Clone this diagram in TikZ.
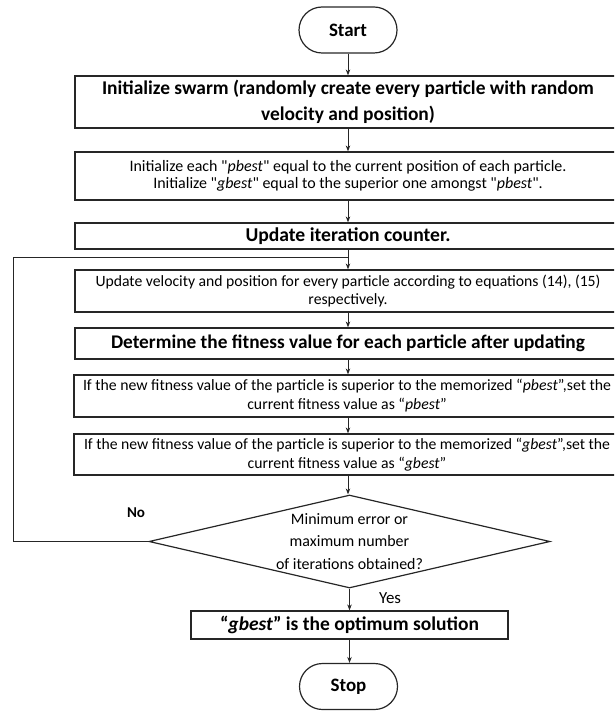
\documentclass[tikz,border=0pt]{standalone}
\usepackage{fontspec}
\setmainfont{Carlito}[Ligatures=TeXOff]
\usetikzlibrary{arrows.meta,shapes.geometric}
\newlength\natw
\newcommand\calcsize[4]{\settowidth\natw{#2\fontsize{10}{12}\selectfont #4}\pgfmathsetmacro#1{10*#3/\natw}}
\begin{document}
\calcsize\szA{\bfseries}{492}{Initialize swarm (randomly create every particle with random}%
\calcsize\szB{}{437}{Initialize each "\textit{pbest}" equal to the current position of each particle.}%
\calcsize\szC{\bfseries}{205}{Update iteration counter.}%
\calcsize\szD{}{505}{Update velocity and position for every particle according to equations (14), (15)}%
\calcsize\szE{\bfseries}{474}{Determine the fitness value for each particle after updating}%
\calcsize\szF{}{528}{If the new fitness value of the particle is superior to the memorized “\textit{pbest}”,set the}%
\calcsize\szG{}{526}{If the new fitness value of the particle is superior to the memorized “\textit{gbest}”,set the}%
\calcsize\szH{}{147}{of iterations obtained?}%
\calcsize\szI{\bfseries}{259}{“\textit{gbest}” is the optimum solution}%
\calcsize\szJ{\bfseries}{38}{Start}%
\calcsize\szK{\bfseries}{18}{No}%
\calcsize\szL{}{22}{Yes}%
\begin{tikzpicture}[x=1pt,y=-1pt,
  box/.style={draw=black!85, line width=1.2pt, fill=white, rectangle, inner sep=0pt, align=center},
  wide/.style={box, minimum width=546pt},
  term/.style={draw=black!85, line width=1.2pt, rounded corners=23pt, minimum width=98pt, minimum height=46pt, inner sep=0pt, font=\bfseries\fontsize{\szJ}{22}\selectfont},
  arr/.style={draw=black!85, line width=0.9pt, -{Stealth[length=6pt,width=4.5pt]}},
  ln/.style={draw=black!85, line width=0.9pt},
  lbl/.style={inner sep=0pt}]
\useasboundingbox (0,0) rectangle (614,711);
\clip (0,0) rectangle (614,711);

\node[term] (start) at (348,30) {Start};
\node[wide, font=\bfseries\fontsize{\szA}{26}\selectfont, minimum height=52pt] (b1) at (348,102)
  {Initialize swarm (randomly create every particle with random\\velocity and position)};
\node[wide, font=\fontsize{\szB}{17}\selectfont, minimum height=48pt] (b2) at (348,176)
  {Initialize each "\textit{pbest}" equal to the current position of each particle.\\Initialize "\textit{gbest}" equal to the superior one amongst "\textit{pbest}".};
\node[wide, font=\bfseries\fontsize{\szC}{24}\selectfont, minimum height=26pt] (b3) at (348,236)
  {Update iteration counter.};
\node[wide, font=\fontsize{\szD}{18}\selectfont, minimum height=42pt] (b4) at (348,291)
  {Update velocity and position for every particle according to equations (14), (15)\\respectively.};
\node[wide, font=\bfseries\fontsize{\szE}{24}\selectfont, minimum height=31pt] (b5) at (348,343.5)
  {Determine the fitness value for each particle after updating};
\node[wide, font=\fontsize{\szF}{19}\selectfont, minimum height=42pt] (b6) at (347,396)
  {If the new fitness value of the particle is superior to the memorized “\textit{pbest}”,set the\\current fitness value as “\textit{pbest}”};
\node[wide, font=\fontsize{\szG}{19}\selectfont, minimum height=41pt] (b7) at (347,454.5)
  {If the new fitness value of the particle is superior to the memorized “\textit{gbest}”,set the\\current fitness value as “\textit{gbest}”};
\node[diamond, draw=black!85, line width=1.2pt, aspect=4.3, inner sep=0pt, align=center,
  minimum width=401pt, minimum height=93pt, font=\fontsize{\szH}{22.5}\selectfont] (dia) at (349.5,541.5)
  {Minimum error or\\maximum number\\of iterations obtained?};
\node[box, font=\bfseries\fontsize{\szI}{24}\selectfont, minimum width=317pt, minimum height=28pt] (b8) at (349.5,625)
  {“\textit{gbest}” is the optimum solution};
\node[term] (stop) at (348.5,686.5) {Stop};

\node[lbl, font=\bfseries\fontsize{\szK}{18}\selectfont] (no) at (136,513) {No};
\node[lbl, font=\fontsize{\szL}{18}\selectfont] (yes) at (390,598) {Yes};

\coordinate (loopc) at (13,541.5);
\coordinate (jn) at (348,257);

\draw[arr] (start.south) -- (b1.north);
\draw[arr] (b1.south) -- (b2.north);
\draw[arr] (b2.south) -- (b3.north);
\draw[arr] (b3.south) -- (b4.north);
\draw[arr] (b4.south) -- (b5.north);
\draw[arr] (b5.south) -- (b5.south |- b6.north);
\draw[arr] (b5.south |- b6.south) -- (b5.south |- b7.north);
\draw[arr] (b5.south |- b7.south) -- (b5.south |- dia.north);
\draw[arr] (dia.south) -- (dia.south |- b8.north);
\draw[arr] (b8.south) -- (b8.south |- stop.north);
\draw[ln] (dia.west) -- (loopc) |- (jn);
\end{tikzpicture}
\end{document}
